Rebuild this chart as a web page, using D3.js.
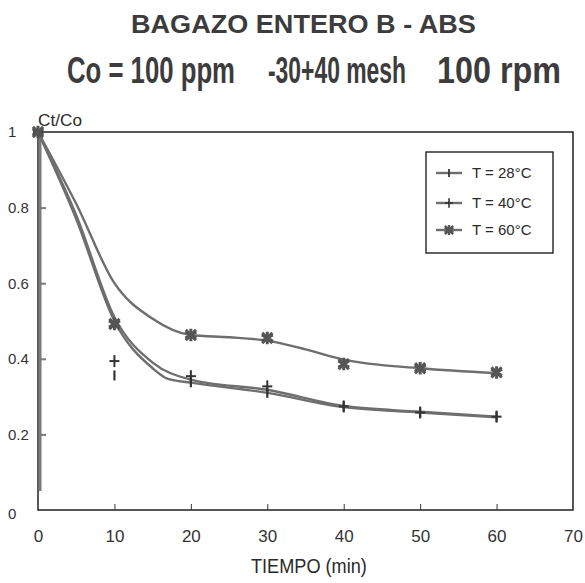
<!DOCTYPE html>
<html>
<head>
<meta charset="utf-8">
<script src="https://cdn.jsdelivr.net/npm/d3@7"></script>
<style>
body{margin:0;background:#fff;}
text{font-family:"Liberation Sans",Arial,sans-serif;fill:#2a2a2a;}
</style>
</head>
<body>
<div id="chart"></div>
<script>
var W = 585, H = 583;

// data
var xTicks = [0,10,20,30,40,50,60,70];
var yTicks = [0,0.2,0.4,0.6,0.8,1];
var seriesNames = ["T = 28°C","T = 40°C","T = 60°C"];

// smooth curves (drawn by hand in the original)
var curveT28 = [0,5,10,15,17,20,30,40,50,60];
var curveV28 = [1,0.77,0.50,0.375,0.347,0.337,0.31,0.272,0.258,0.245];
var curveT40 = [0,5,10,15,20,30,40,50,60];
var curveV40 = [1,0.78,0.51,0.39,0.345,0.318,0.275,0.26,0.247];
var curveT60 = [0,5,10,15,20,25,30,35,40,50,60];
var curveV60 = [1,0.81,0.6,0.506,0.463,0.457,0.448,0.425,0.398,0.375,0.362];

// measured points
var ptT = [0,10,20,30,40,50,60];
var pt28 = [1,0.356,0.338,0.31,0.274,0.258,0.247];
var pt40 = [1,0.394,0.354,0.327,0.274,0.258,0.247];
var pt60 = [1,0.492,0.463,0.455,0.386,0.375,0.364];

var x = d3.scaleLinear().domain([0,70]).range([38,573]);
var y = d3.scaleLinear().domain([0,1]).range([510,132]);

var svg = d3.select("#chart").append("svg")
	.attr("width",W).attr("height",H);

// squeezes a text horizontally to a given width (the original uses a narrow face)
function fitText(sel, x0, y0, width, size, bold, txt){
	var g = sel.append("g");
	var t = g.append("text")
		.style("font-size",size+"px")
		.style("font-weight",bold?"bold":"normal")
		.text(txt);
	var w = t.node().getComputedTextLength();
	g.attr("transform","translate("+x0+","+y0+") scale("+(width/w)+",1)");
	return t;
}

// titles
fitText(svg,131,33,345,25,true,"BAGAZO ENTERO B - ABS").style("fill","#3c3c3c");
var sub = [["Co = 100 ppm",67,168],["-30+40 mesh",268,138],["100 rpm",437,124]];
sub.forEach(function(s){
	fitText(svg,s[1],83,s[2],37,true,s[0]).style("fill","#3c3c3c");
});

fitText(svg,38,126,44,17,false,"Ct/Co");

// frame
svg.append("rect")
	.attr("x",x(0)).attr("y",y(1))
	.attr("width",x(70)-x(0)).attr("height",y(0)-y(1))
	.attr("fill","none").attr("stroke","#111").attr("stroke-width",1.4);

// left axis, thick grey
svg.append("line")
	.attr("x1",x(0)+2).attr("x2",x(0)+2)
	.attr("y1",y(1)).attr("y2",y(0.05))
	.attr("stroke","#7a7a7a").attr("stroke-width",3);

var xAxis = d3.axisBottom(x).tickValues(xTicks).tickSizeInner(-6).tickSizeOuter(0).tickPadding(20);
var gx = svg.append("g").attr("transform","translate(0,"+y(0)+")").call(xAxis);
gx.select(".domain").remove();
gx.selectAll("text").style("font-size","17px").style("fill","#333");
gx.selectAll("line").attr("stroke","#333");
gx.selectAll(".tick").filter(function(d){return d==0||d==70}).select("line").remove();

var yAxis = d3.axisLeft(y).tickValues(yTicks).tickSizeInner(-6).tickSizeOuter(0)
	.tickFormat(function(d){return (d==0||d==1)?d:d.toFixed(1)});
var gy = svg.append("g").attr("transform","translate("+(x(0)+2)+",0)").call(yAxis);
gy.select(".domain").remove();
gy.selectAll("line").attr("stroke","#7a7a7a").attr("stroke-width",2);
gy.selectAll("text")
	.attr("x",8-(x(0)+2))
	.attr("text-anchor","start")
	.style("font-size","15px").style("fill","#333");
gy.selectAll(".tick").filter(function(d){return d==0}).attr("transform","translate(0,"+(y(0)+4)+")");
gy.selectAll(".tick").filter(function(d){return d==0||d==1}).select("line").remove();

fitText(svg,251,573,116,21,false,"TIEMPO (min)");

// curves
var line = d3.line()
	.x(function(d){return x(d[0])})
	.y(function(d){return y(d[1])})
	.curve(d3.curveMonotoneX);

var curves = [d3.zip(curveT28,curveV28), d3.zip(curveT40,curveV40), d3.zip(curveT60,curveV60)];
svg.selectAll(".curve").data(curves).enter().append("path")
	.attr("class","curve")
	.attr("d",line)
	.attr("fill","none")
	.attr("stroke","#6e6e6e")
	.attr("stroke-width",2.4);

// markers
function tick(g){
	g.append("line").attr("x1",0).attr("x2",0).attr("y1",-5).attr("y2",5)
		.attr("stroke","#333").attr("stroke-width",2.2);
}
function plus(g){
	g.append("line").attr("x1",0).attr("x2",0).attr("y1",-6).attr("y2",6)
		.attr("stroke","#333").attr("stroke-width",2);
	g.append("line").attr("x1",-5).attr("x2",5).attr("y1",0).attr("y2",0)
		.attr("stroke","#333").attr("stroke-width",2);
}
function star(g){
	g.append("path").attr("d",d3.symbol(d3.symbolAsterisk,110)())
		.attr("fill","none").attr("stroke","#555").attr("stroke-width",3);
	g.append("path").attr("d",d3.symbol(d3.symbolTimes,70)())
		.attr("fill","none").attr("stroke","#555").attr("stroke-width",3);
}

var markerFns = [tick,plus,star];
var pts = [pt28,pt40,pt60];
pts.forEach(function(vals,k){
	svg.selectAll(".m"+k).data(d3.zip(ptT,vals)).enter().append("g")
		.attr("class","m"+k)
		.attr("transform",function(d){return "translate("+x(d[0])+","+y(d[1])+")"})
		.each(function(){markerFns[k](d3.select(this))});
});

// legend
var lg = svg.append("g");
lg.append("rect")
	.attr("x",426).attr("y",152).attr("width",127).attr("height",101)
	.attr("fill","#fff").attr("stroke","#222").attr("stroke-width",1.4);
var ly = [173,203,230];
seriesNames.forEach(function(n,k){
	lg.append("line")
		.attr("x1",436).attr("x2",462).attr("y1",ly[k]).attr("y2",ly[k])
		.attr("stroke","#6e6e6e").attr("stroke-width",2.4);
	var m = lg.append("g").attr("transform","translate(449,"+ly[k]+") scale(0.8)");
	markerFns[k](m);
	lg.append("text")
		.attr("x",472).attr("y",ly[k]+5)
		.style("font-size","15px")
		.text(n);
});
</script>
</body>
</html>
